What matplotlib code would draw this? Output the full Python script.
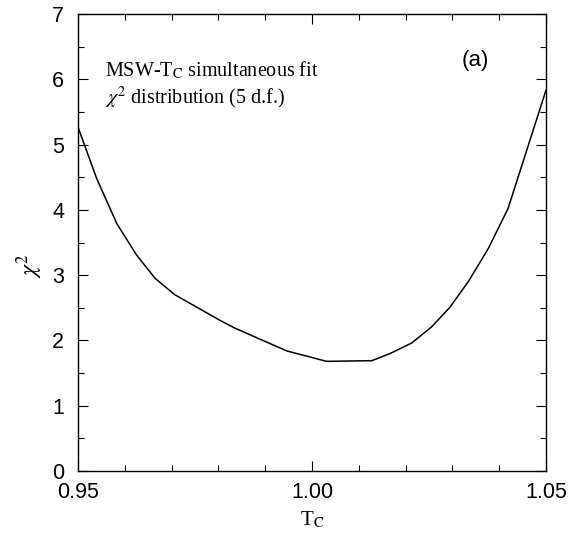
import matplotlib
matplotlib.use("Agg")
import matplotlib.pyplot as plt
from matplotlib.ticker import MultipleLocator

# chi^2 vs T_C
tc = [0.950, 0.954, 0.9583, 0.9625, 0.9665, 0.9707, 0.9803, 0.9835, 0.9946,
      1.0031, 1.0128, 1.0167, 1.0213, 1.0256, 1.0295, 1.0334, 1.0377, 1.0419, 1.050]
chi2 = [5.27, 4.48, 3.79, 3.31, 2.95, 2.70, 2.31, 2.19, 1.84,
        1.68, 1.69, 1.80, 1.96, 2.21, 2.51, 2.90, 3.41, 4.02, 5.83]

xticks = [0.95, 1.00, 1.05]
xticklabels = ["0.95", "1.00", "1.05"]

serif = ["Liberation Serif", "DejaVu Serif"]
sans = ["Liberation Sans", "DejaVu Sans"]

plt.rcParams["mathtext.fontset"] = "stix"

fig = plt.figure(figsize=(5.82, 5.42), dpi=100)
ax = fig.add_axes([0.134, 0.131, 0.804, 0.843])

ax.plot(tc, chi2, color="black", lw=1.1)

ax.set_xlim(0.95, 1.05)
ax.set_ylim(0, 7)
ax.set_xticks(xticks)
ax.set_xticklabels(xticklabels)
ax.xaxis.set_minor_locator(MultipleLocator(0.01))
ax.yaxis.set_major_locator(MultipleLocator(1))
ax.yaxis.set_minor_locator(MultipleLocator(0.5))
ax.tick_params(which="both", direction="in", top=True, right=True,
               labelsize=15.5, width=0.8)
ax.tick_params(which="major", length=7)
ax.tick_params(which="minor", length=4)
ax.tick_params(axis="x", which="major", pad=8)
ax.tick_params(axis="y", which="major", pad=10)
for lab in ax.get_xticklabels() + ax.get_yticklabels():
    lab.set_family(sans)
for s in ax.spines.values():
    s.set_linewidth(1.0)

ax.set_xlabel(r"T$_\mathrm{C}$", family=serif, fontsize=15, labelpad=5)
ax.set_ylabel(r"$\chi^\mathrm{2}$", fontsize=17)
ax.yaxis.set_label_coords(-0.07, 0.45)

ax.text(0.9558, 6.05, r"MSW-T$_\mathrm{C}$ simultaneous fit", family=serif,
        fontsize=14.5, va="baseline")
ax.text(0.9558, 5.63, r"$\chi^\mathrm{2}$ distribution (5 d.f.)", family=serif,
        fontsize=14.5, va="baseline")
ax.text(1.035, 6.29, "(a)", family=sans, fontsize=16, ha="center", va="center")

fig.savefig("out.png", dpi=100)
